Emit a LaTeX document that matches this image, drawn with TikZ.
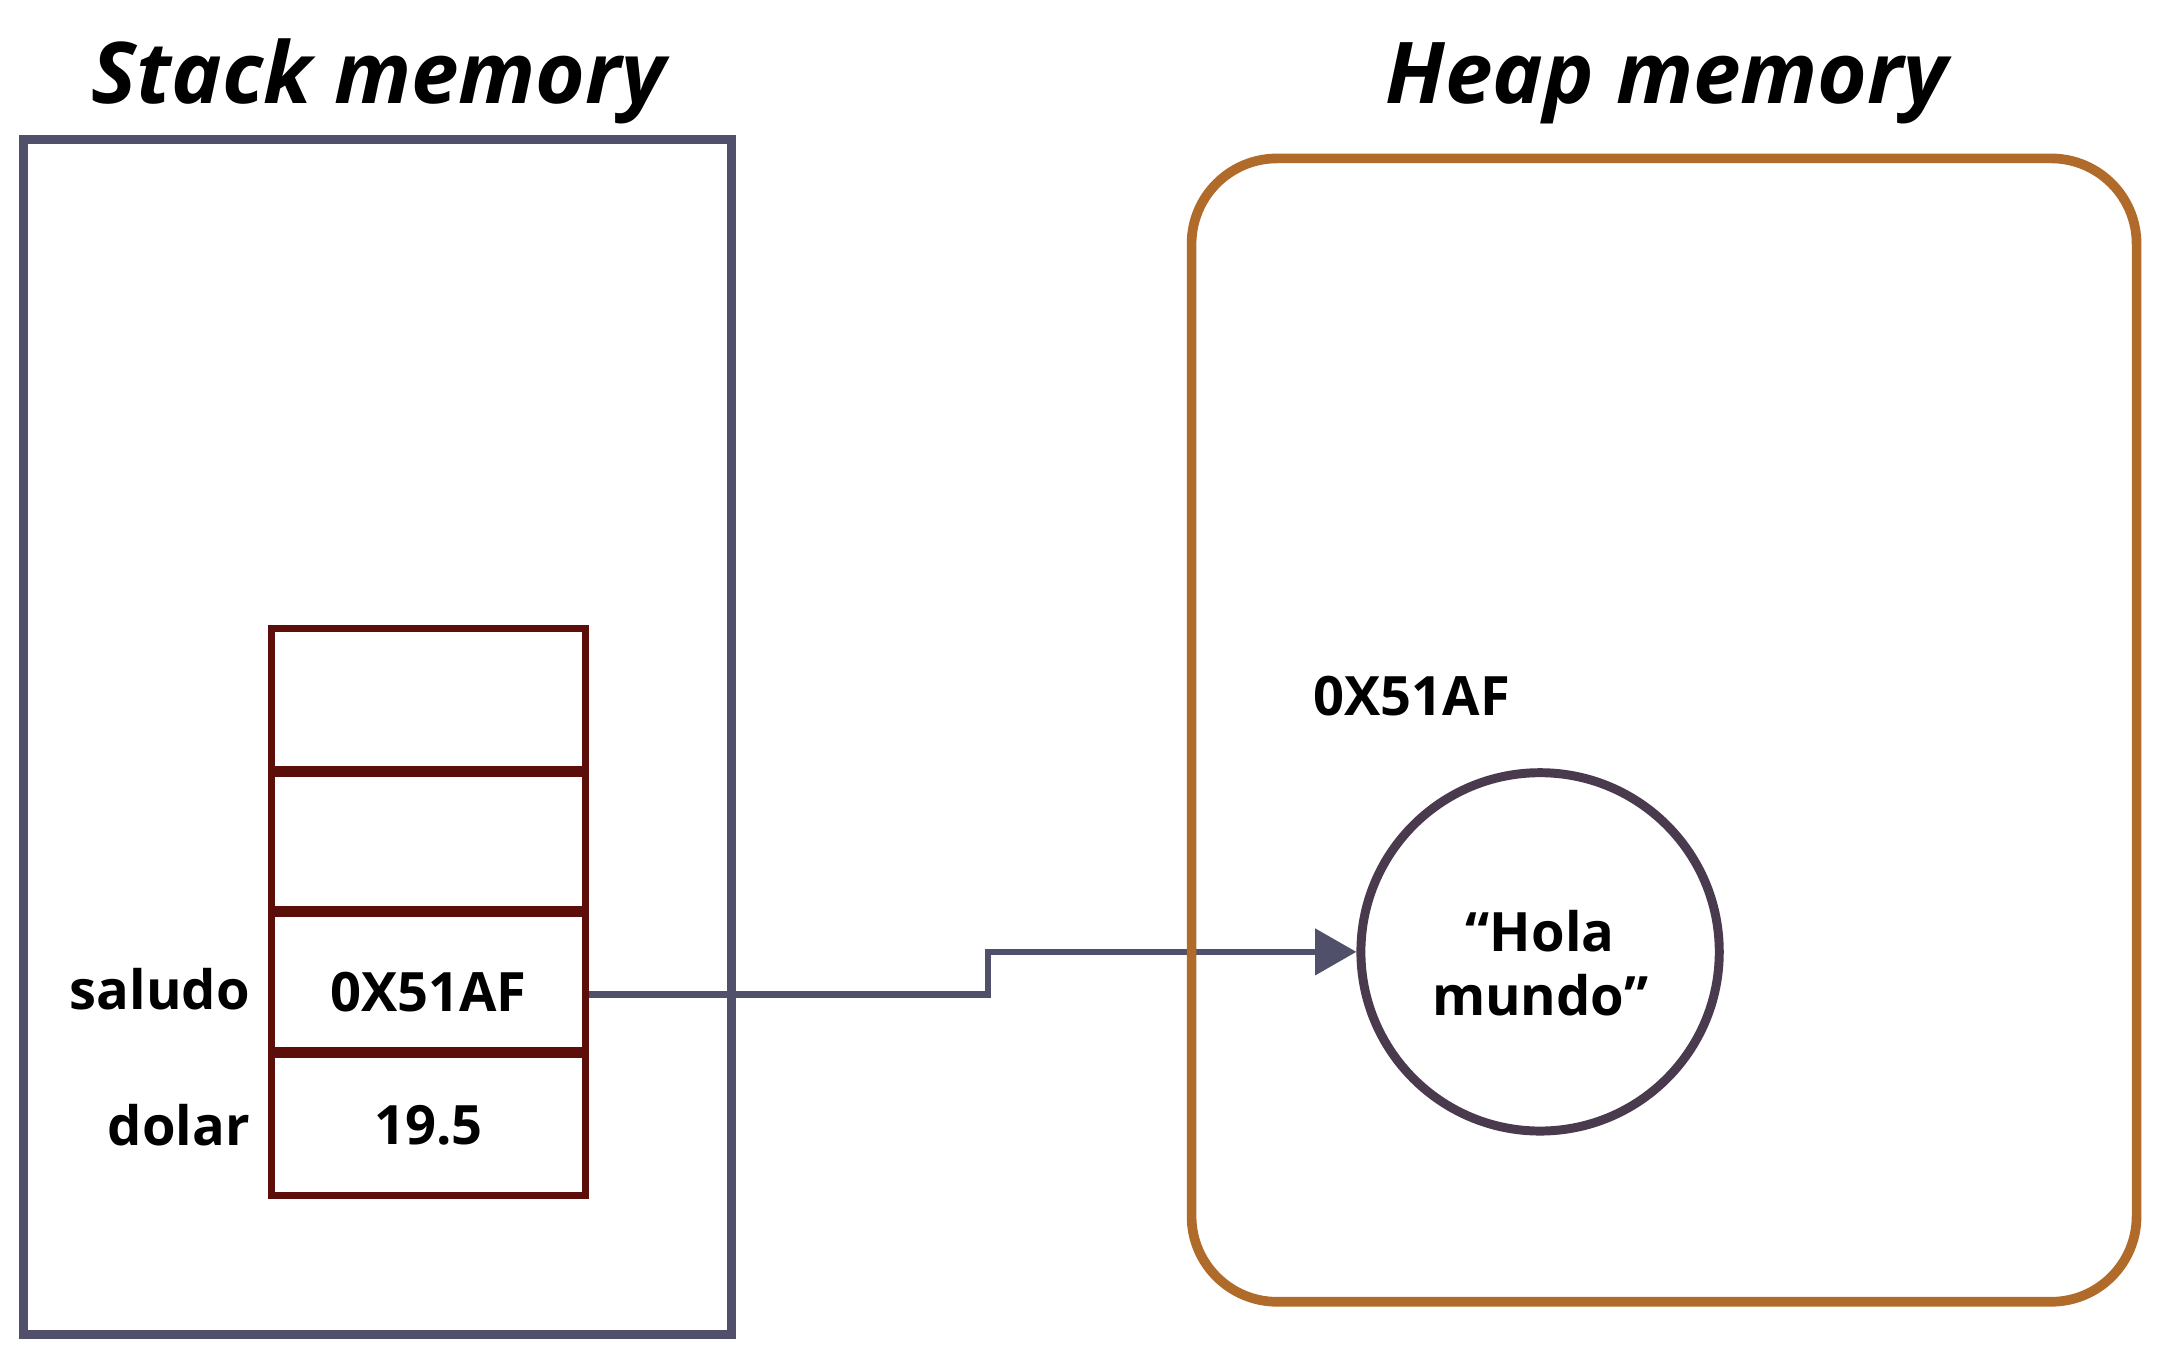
\documentclass[tikz,border=0pt]{standalone}
\usepackage{fontspec}
\setmainfont{Open Sans}
\usetikzlibrary{arrows.meta}
\definecolor{stackc}{RGB}{80,80,106}
\definecolor{cellc}{RGB}{92,15,10}
\definecolor{heapc}{RGB}{176,106,42}
\definecolor{circc}{RGB}{74,58,78}
\begin{document}
\begin{tikzpicture}[x=0.01cm,y=-0.01cm,
  titletext/.style={font=\fontsize{17.6}{20}\selectfont\bfseries\itshape, anchor=base, inner sep=0},
  labeltext/.style={font=\fontsize{11.2}{13.5}\selectfont\bfseries, inner sep=0},
  cellbox/.style={draw=cellc, line width=0.05cm, minimum width=2.28cm, minimum height=1.05cm, inner sep=0},
  stackbox/.style={draw=stackc, line width=0.065cm},
  heapbox/.style={draw=heapc, line width=0.07cm, rounded corners=0.62cm},
  arrowline/.style={draw=stackc, line width=0.045cm, -{Triangle[length=0.30cm, width=0.33cm]}}
]
\useasboundingbox (0,0) rectangle (1568,991.6);

% titles
\node[titletext] (stitle) at (275,75) {Stack memory};
\node[titletext] (htitle) at (1210,75) {Heap memory};

% stack cells
\node[cellbox] (c1) at (311,509) {};
\node[cellbox] (c2) at (311,611) {};
\node[cellbox] (c3) at (311,713) {};
\node[cellbox] (c4) at (311,815) {};
\node[labeltext] (v3) at (311,720) {0X51AF};
\node[labeltext] (v4) at (311,817) {19.5};

% labels
\node[labeltext, anchor=east] (lsal) at (182,718) {saludo};
\node[labeltext, anchor=east] (ldol) at (182,817) {dolar};

% heap content
\node[labeltext, anchor=west] (addr) at (953,505) {0X51AF};
\node[draw=circc, line width=0.065cm, circle, minimum size=2.6cm, inner sep=0] (circ) at (1118,691) {};
\node[labeltext, align=center, font=\fontsize{11.2}{13.3}\selectfont\bfseries] (hola) at (1118,699) {“Hola\\mundo”};

% connector
\coordinate (bend) at (717,0);
\coordinate (start) at ([yshift=-0.09cm]c3.east);
\draw[arrowline] (start) -- (start -| bend) |- (circ.west);

% containers
\draw[stackbox] (17,101) rectangle (531,969);
\draw[heapbox] (865,115) rectangle (1551,945);
\end{tikzpicture}
\end{document}
